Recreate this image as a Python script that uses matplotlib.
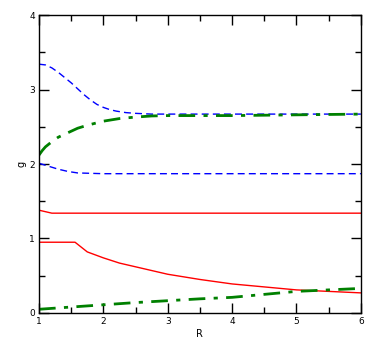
import numpy as np
import matplotlib
matplotlib.use("Agg")
import matplotlib.pyplot as plt
from matplotlib.ticker import MultipleLocator

# Values
r_blue_up = [1.0, 1.1, 1.2, 1.3, 1.4, 1.5, 1.6, 1.7, 1.8, 1.9, 2.0, 2.1, 2.2, 2.35, 2.5, 2.75, 3.0, 4.0, 5.0, 6.0]
g_blue_up = [3.34, 3.33, 3.29, 3.23, 3.16, 3.09, 3.01, 2.93, 2.86, 2.80, 2.76, 2.73, 2.71, 2.69, 2.68, 2.67, 2.67, 2.67, 2.67, 2.67]

r_green_up = [1.0, 1.05, 1.1, 1.2, 1.3, 1.4, 1.5, 1.6, 1.75, 2.0, 2.25, 2.5, 2.75, 3.0, 4.0, 5.0, 6.0]
g_green_up = [2.12, 2.18, 2.23, 2.30, 2.36, 2.40, 2.44, 2.48, 2.52, 2.575, 2.61, 2.63, 2.645, 2.65, 2.65, 2.66, 2.67]

r_blue_lo = [1.0, 1.15, 1.3, 1.45, 1.6, 2.0, 3.0, 4.0, 5.0, 6.0]
g_blue_lo = [2.01, 1.97, 1.93, 1.90, 1.88, 1.87, 1.87, 1.87, 1.87, 1.87]

r_red_up = [1.0, 1.1, 1.2, 2.0, 3.0, 4.0, 5.0, 6.0]
g_red_up = [1.38, 1.36, 1.34, 1.34, 1.34, 1.34, 1.34, 1.34]

r_red_lo = [1.0, 1.56, 1.75, 2.0, 2.25, 2.5, 3.0, 3.5, 4.0, 4.5, 5.0, 5.5, 6.0]
g_red_lo = [0.95, 0.95, 0.82, 0.74, 0.67, 0.62, 0.52, 0.45, 0.39, 0.35, 0.31, 0.29, 0.27]

r_green_lo = [1.0, 1.5, 2.0, 2.5, 3.0, 3.5, 4.0, 4.5, 5.0, 5.5, 6.0]
g_green_lo = [0.05, 0.08, 0.11, 0.14, 0.165, 0.19, 0.21, 0.25, 0.29, 0.31, 0.33]

fig = plt.figure(figsize=(3.88, 3.46), dpi=100)
ax = fig.add_axes([0.1005, 0.0954, 0.8295, 0.8612])

ax.plot(r_blue_up, g_blue_up, color="blue", lw=1.0, dashes=(5, 3))
ax.plot(r_green_up, g_green_up, color="green", lw=2.0, dashes=(6, 3, 1.5, 3))
ax.plot(r_blue_lo, g_blue_lo, color="blue", lw=1.0, dashes=(5, 3))
ax.plot(r_red_up, g_red_up, color="red", lw=1.0)
ax.plot(r_red_lo, g_red_lo, color="red", lw=1.0)
ax.plot(r_green_lo, g_green_lo, color="green", lw=2.0, dashes=(6, 3, 1.5, 3))

ax.set_xlim(1, 6)
ax.set_ylim(0, 4)
ax.xaxis.set_major_locator(MultipleLocator(1))
ax.xaxis.set_minor_locator(MultipleLocator(0.5))
ax.yaxis.set_major_locator(MultipleLocator(1))
ax.yaxis.set_minor_locator(MultipleLocator(0.5))
ax.tick_params(which="both", direction="in", top=True, right=True, labelsize=6.5, pad=3)
ax.tick_params(which="major", length=7, width=1)
ax.tick_params(which="minor", length=4, width=1)
for s in ax.spines.values():
    s.set_linewidth(1.0)

ax.set_xlabel("R", fontsize=7, labelpad=2)
ax.set_ylabel("g", fontsize=7, labelpad=2)

fig.savefig("out.png", dpi=100)
